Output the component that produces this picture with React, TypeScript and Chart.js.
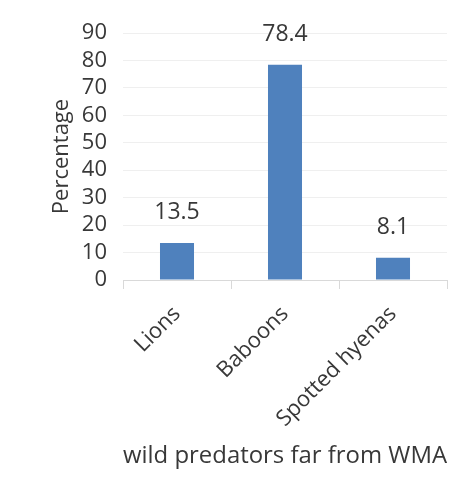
import React, { useEffect, useRef } from "react";
import { Chart, registerables } from "chart.js";

Chart.register(...registerables);

const categories = ["Lions", "Baboons", "Spotted hyenas"];
const values = [13.5, 78.4, 8.1];
const yTicks = [0, 10, 20, 30, 40, 50, 60, 70, 80, 90];

const FONT = "'Open Sans', 'Liberation Sans', sans-serif";
const SIZE = 22;
const TEXT = "#383838";

const labelPlugin = {
  id: "barLabels",
  afterDatasetsDraw(chart: any) {
    const { ctx } = chart;
    const meta = chart.getDatasetMeta(0);
    ctx.save();
    ctx.font = `23px ${FONT}`;
    ctx.fillStyle = TEXT;
    ctx.textAlign = "center";
    ctx.textBaseline = "middle";
    meta.data.forEach((bar: any, i: number) => {
      ctx.fillText(String(values[i]), bar.x, bar.y - 30);
    });
    ctx.restore();
  },
};

export default function App() {
  const ref = useRef<HTMLCanvasElement>(null);
  useEffect(() => {
    if (!ref.current) return;
    const chart = new Chart(ref.current, {
      type: "bar",
      data: {
        labels: categories,
        datasets: [
          {
            data: values,
            backgroundColor: "#4f81bd",
            categoryPercentage: 1,
            barPercentage: 0.315,
          },
        ],
      },
      options: {
        animation: false,
        responsive: false,
        maintainAspectRatio: false,
        layout: { padding: { top: 33, right: 18, bottom: 33, left: 49 } },
        plugins: { legend: { display: false }, tooltip: { enabled: false } },
        scales: {
          x: {
            offset: true,
            afterFit(scale: any) {
              scale.height = 191;
            },
            grid: {
              offset: true,
              drawOnChartArea: false,
              drawTicks: true,
              tickLength: 9,
              color: "#d9d9d9",
            },
            border: { color: "#d9d9d9" },
            ticks: {
              color: TEXT,
              font: { family: FONT, size: SIZE },
              minRotation: 45,
              maxRotation: 45,
              autoSkip: false,
              padding: 12,
            },
            title: {
              display: true,
              text: "wild predators far from WMA",
              color: TEXT,
              font: { family: FONT, size: 24 },
              padding: { top: 0, bottom: 0 },
            },
          },
          y: {
            min: 0,
            max: 90,
            afterFit(scale: any) {
              scale.width = 74;
            },
            afterBuildTicks(scale: any) {
              scale.ticks = yTicks.map((v) => ({ value: v }));
            },
            grid: { color: "#efefef", drawTicks: false },
            border: { display: false },
            ticks: {
              color: TEXT,
              font: { family: FONT, size: SIZE },
              autoSkip: false,
              padding: 16,
            },
            title: {
              display: true,
              text: "Percentage",
              color: TEXT,
              font: { family: FONT, size: SIZE },
              padding: { top: 0, bottom: 0 },
            },
          },
        },
      },
      plugins: [labelPlugin],
    });
    return () => chart.destroy();
  }, []);
  return (
    <div style={{ position: "fixed", left: 0, top: 0, width: 465, height: 504, background: "#fff" }}>
      <canvas ref={ref} width={465} height={504} />
    </div>
  );
}
